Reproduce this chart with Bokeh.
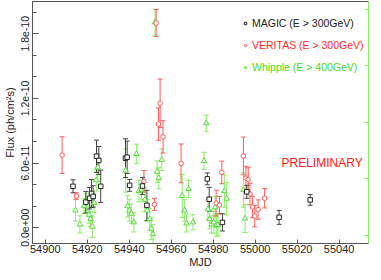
from bokeh.plotting import figure
from bokeh.models import (ColumnDataSource, Whisker, TeeHead, FixedTicker, LinearAxis,
                          Legend, LegendItem, Label)
from bokeh.core.properties import value
from bokeh.embed import file_html
from bokeh.resources import INLINE

FONT = "Liberation Sans"

# Flux values in units of 1e-11 ph/cm^2/s
magic_mjd = [54913.2, 54919.3, 54921.1, 54922.0, 54922.8, 54924.4, 54925.5, 54926.4,
             54938.2, 54939.0, 54940.2, 54946.3, 54948.4, 54977.2, 54978.1, 54984.4,
             54996.0, 55011.4, 55026.2]
magic_flux = [3.84, 2.37, 2.73, 3.18, 2.90, 6.63, 6.24, 3.84,
              6.45, 6.54, 3.93, 3.87, 2.07, 4.53, 2.64, 0.49,
              3.33, 0.96, 2.58]
magic_err = [0.6, 1.0, 1.0, 1.3, 1.0, 1.5, 1.3, 1.5,
             1.8, 1.5, 0.55, 0.8, 1.4, 0.55, 1.1, 0.8,
             0.6, 0.65, 0.5]

veritas_mjd = [54908.0, 54914.8, 54947.0, 54952.0, 54952.8, 54953.9, 54954.7, 54956.1,
               54964.7, 54981.4, 54983.0, 54984.1, 54994.4, 54995.6, 54996.7, 54997.5,
               54998.7, 54999.8, 55001.4, 55004.5]
veritas_flux = [6.74, 2.94, 4.3, 2.16, 19.0, 9.62, 11.55, 8.43,
                5.97, 2.28, 2.1, 5.13, 6.66, 4.6, 4.47, 3.12,
                1.92, 1.08, 1.68, 2.73]
veritas_err = [1.7, 0.3, 1.0, 0.57, 1.25, 1.5, 2.25, 1.5,
               1.8, 1.2, 0.8, 1.05, 1.75, 1.1, 1.1, 1.0,
               1.0, 1.0, 0.9, 0.9]

whipple_mjd = [54914.4, 54916.5, 54918.5, 54919.5, 54920.9, 54921.6, 54922.4, 54923.3,
               54924.3, 54925.0, 54938.3, 54939.2, 54940.0, 54941.0, 54942.2, 54943.4,
               54944.6, 54945.8, 54947.5, 54948.6, 54949.8, 54950.5, 54951.3, 54952.3,
               54953.3, 54954.1, 54955.5, 54965.2, 54966.4, 54967.3, 54968.3, 54970.4,
               54975.6, 54976.7, 54977.5, 54978.3, 54979.2, 54980.3, 54980.9, 54981.5,
               54982.3, 54985.3, 54986.4, 54994.4, 54995.2]
whipple_flux = [1.6, 0.3, 2.0, 2.4, 1.2, 0.8, 0.1, 2.3,
                4.4, 5.6, 5.3, 2.0, 1.6, 1.3, 0.5, 6.85,
                3.4, 3.5, 2.6, 1.6, 0.8, -0.1, -0.6, 19.07,
                5.2, 4.6, 6.3, 2.95, 1.6, 0.4, 3.6, 0.5,
                6.2, 9.7, 1.7, 0.8, 0.3, 0.5, 1.9, 0.2,
                0.25, 3.4, 2.7, 3.5, 0.85]
whipple_err = [1.0, 0.8, 0.7, 0.8, 0.8, 0.7, 1.0, 0.9,
               1.0, 1.3, 2.0, 1.0, 1.0, 0.9, 0.9, 0.9,
               1.0, 0.9, 1.1, 1.0, 1.0, 1.0, 0.9, 1.2,
               1.0, 1.0, 1.0, 2.0, 1.0, 0.8, 0.8, 0.7,
               0.8, 0.75, 0.9, 0.9, 0.8, 1.0, 1.0, 1.0,
               1.0, 1.5, 1.5, 1.6, 1.3]

x_ticks = [54900, 54920, 54940, 54960, 54980, 55000, 55020, 55040]
y_ticks = [0, 6, 12, 18]
y_tick_labels = ["0.0e+00", "6.0e-11", "1.2e-10", "1.8e-10"]
y_minor_ticks = [2, 4, 8, 10, 14, 16, 20]
right_ticks = [-0.72, 4.53, 9.78, 15.03, 20.28]

series_names = ["MAGIC (E > 300GeV)", "VERITAS (E > 300GeV)", "Whipple (E > 400GeV)"]

C_MAGIC = "#222222"
C_MAGIC_BAR = "#444444"
C_VER = "#ff5a5a"
C_VER_TXT = "#ff2a2a"
C_WHI = "#55dd33"
C_WHI_BAR = "#88ee66"
C_WHI_TXT = "#44dd22"
AXIS = "#555555"

p = figure(width=373, height=270, x_range=(54893.9, 55054.0), y_range=(-1.47, 21.0),
           output_backend="svg", toolbar_location=None,
           min_border_left=28, min_border_right=5, min_border_top=1, min_border_bottom=26,
           x_axis_label="MJD", y_axis_label="Flux (ph/cm²s)")
p.grid.visible = False
p.outline_line_color = AXIS
p.background_fill_color = "white"
p.border_fill_color = "white"


def add_series(mjd, flux, err, marker, mcolor, bcolor, size):
    src = ColumnDataSource(dict(x=mjd, y=flux,
                                lo=[f - e for f, e in zip(flux, err)],
                                hi=[f + e for f, e in zip(flux, err)]))
    w = Whisker(base="x", lower="lo", upper="hi", source=src,
                line_color=bcolor, line_width=1,
                lower_head=TeeHead(size=5, line_color=bcolor, line_width=1),
                upper_head=TeeHead(size=5, line_color=bcolor, line_width=1))
    p.add_layout(w)
    r = p.scatter("x", "y", source=src, marker=marker, size=size,
                  fill_color="white", line_color=mcolor, line_width=1)
    return r


r_whi = add_series(whipple_mjd, whipple_flux, whipple_err, "triangle", C_WHI, C_WHI_BAR, 5.5)
r_ver = add_series(veritas_mjd, veritas_flux, veritas_err, "circle", C_VER, C_VER, 4.5)
r_mag = add_series(magic_mjd, magic_flux, magic_err, "square", C_MAGIC, C_MAGIC_BAR, 4.5)

# axes
xa = p.xaxis[0]
xa.ticker = FixedTicker(ticks=x_ticks, minor_ticks=[])
ya = p.yaxis[0]
ya.ticker = FixedTicker(ticks=y_ticks, minor_ticks=y_minor_ticks)
ya.major_label_overrides = {t: l for t, l in zip(y_ticks, y_tick_labels)}
ya.major_label_orientation = "vertical"

for ax in (xa, ya):
    ax.axis_line_color = AXIS
    ax.major_tick_line_color = AXIS
    ax.minor_tick_line_color = AXIS
    ax.major_tick_out = 0
    ax.minor_tick_out = 0
    ax.major_label_text_font = FONT
    ax.major_label_text_color = "#222222"
    ax.axis_label_text_font = FONT
    ax.axis_label_text_font_style = "normal"
    ax.axis_label_text_color = "#222222"
    ax.axis_label_text_font_size = "11px"

xa.major_tick_in = 4
xa.major_label_text_font_size = "11px"
xa.major_label_standoff = 1
xa.axis_label_standoff = 0
ya.major_tick_in = 6
ya.minor_tick_in = 4
ya.major_label_text_font_size = "10.5px"
ya.major_label_standoff = 3
ya.axis_label_standoff = 3

# right-hand axis: green line with ticks only (labels intentionally blank)
ra = LinearAxis(ticker=FixedTicker(ticks=right_ticks, minor_ticks=[]),
                axis_line_color=C_WHI_BAR, major_tick_line_color=C_WHI_BAR,
                major_tick_in=4, major_tick_out=0, minor_tick_line_alpha=0,
                major_label_overrides={t: "" for t in right_ticks},
                major_label_standoff=0)
p.add_layout(ra, "right")

# legends (one per series so each label keeps its own colour)
leg_specs = [(r_mag, series_names[0], C_MAGIC, 214),
             (r_ver, series_names[1], C_VER_TXT, 192),
             (r_whi, series_names[2], C_WHI_TXT, 170)]
for r, lab, col, ypos in leg_specs:
    leg = Legend(items=[LegendItem(label=value(lab), renderers=[r])],
                 location=(210, ypos), label_text_color=col, label_text_font=FONT,
                 label_text_font_size="10.5px", background_fill_alpha=0,
                 border_line_alpha=0, padding=0, margin=0, glyph_width=6,
                 glyph_height=6, label_standoff=4, label_height=12, spacing=0)
    p.add_layout(leg)

p.add_layout(Label(x=249, y=81, x_units="screen", y_units="screen", text="PRELIMINARY",
                   text_color="#ff2020", text_font=FONT, text_font_size="12px",
                   text_baseline="middle", text_align="left"))

open("out.html", "w").write(file_html(p, INLINE))
